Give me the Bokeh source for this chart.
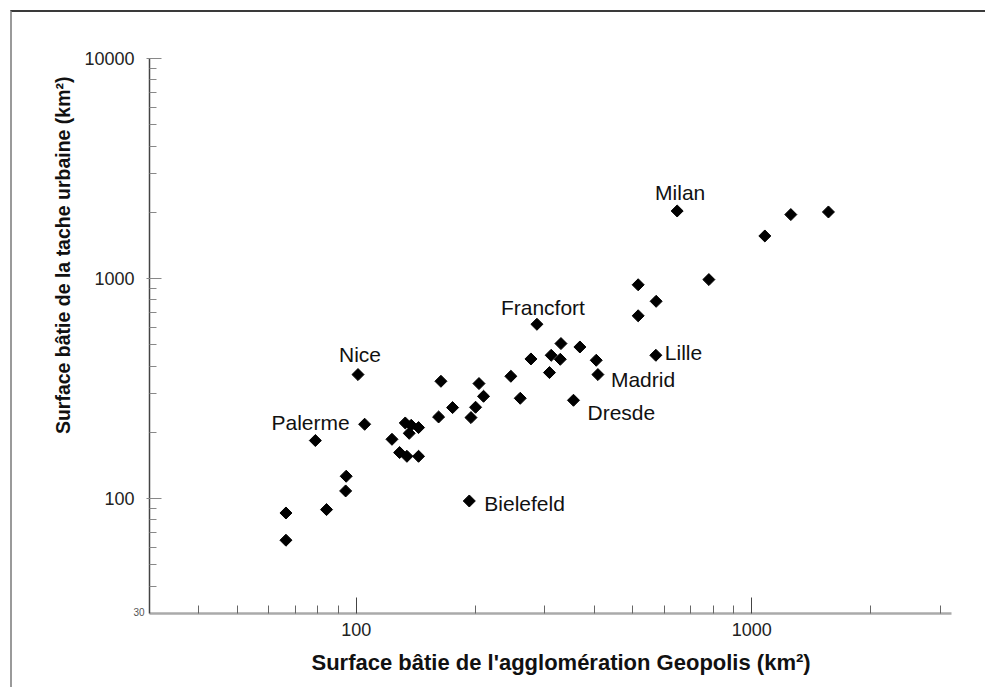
import numpy as np
from bokeh.plotting import figure
from bokeh.models import FixedTicker, NumeralTickFormatter, ColumnDataSource, Title
from bokeh.embed import file_html
from bokeh.resources import INLINE
from bokeh.core.properties import value

# ---- data (km²) ----
x_geopolis = [66.4, 66.4, 84.1, 94.0, 94.3, 78.8, 105.0, 101.0, 123.1, 128.7,
              134.3, 143.7, 133.0, 137.7, 143.7, 136.1, 161.5, 163.7, 175.2, 195.0,
              200.3, 204.3, 209.8, 193.1, 246.0, 259.8, 276.5, 286.3, 308.0, 311.1,
              328.0, 329.3, 354.2, 367.7, 404.4, 408.3, 572.2, 516.2, 516.2, 573.2,
              647.8, 779.1, 1079.3, 1255.6, 1563.0]
y_tache = [85.9, 64.6, 89.0, 108.2, 126.2, 183.4, 217.5, 365.8, 185.8, 161.7,
           155.5, 155.5, 220.4, 215.1, 210.0, 197.8, 234.7, 341.0, 258.9, 233.2,
           259.8, 332.9, 291.4, 97.4, 359.3, 285.4, 430.7, 619.3, 373.5, 447.6,
           429.3, 506.0, 279.5, 488.2, 424.9, 365.8, 447.6, 676.8, 936.3, 787.5,
           2027.0, 988.6, 1560.5, 1952.0, 2006.0]

city_names = ["Milan", "Francfort", "Nice", "Palerme", "Lille", "Madrid", "Dresde", "Bielefeld"]
city_x = [647.8, 286.3, 101.0, 105.0, 572.2, 408.3, 354.2, 193.1]
city_y = [2027.0, 619.3, 365.8, 217.5, 447.6, 365.8, 279.5, 97.4]

x_major_ticks = [100, 1000]
x_minor_ticks = [40, 50, 60, 70, 80, 90, 200, 300, 400, 500, 600, 700, 800, 900, 2000, 3000]
y_major_ticks = [100, 1000, 10000]
y_minor_ticks = [40, 50, 60, 70, 80, 90, 200, 300, 400, 500, 600, 700, 800, 900,
                 2000, 3000, 4000, 5000, 6000, 7000, 8000, 9000]
x_limits = (30, 3200)
y_limits = (30, 10000)
y_low_label = "30"
x_title = "Surface bâtie de l'agglomération Geopolis (km²)"
y_title = "Surface bâtie de la tache urbaine (km²)"

# ---- styles ----
FONT = "Liberation Sans"
label_style = {
    "Milan": dict(align="center", dx=3, dy=-18),
    "Francfort": dict(align="center", dx=6, dy=-17),
    "Nice": dict(align="center", dx=2, dy=-20),
    "Palerme": dict(align="right", dx=-15, dy=-2),
    "Lille": dict(align="left", dx=9, dy=-3),
    "Madrid": dict(align="left", dx=13, dy=5),
    "Dresde": dict(align="left", dx=14, dy=12),
    "Bielefeld": dict(align="left", dx=15, dy=3),
}

p = figure(x_axis_type="log", y_axis_type="log",
           x_range=x_limits, y_range=y_limits,
           frame_width=802, frame_height=555,
           min_border_left=137, min_border_right=34,
           min_border_top=46, min_border_bottom=74,
           output_backend="svg", toolbar_location=None)
p.styles = {"margin-top": "10px", "margin-left": "10px",
            "border-top": "2px solid #3a3a3a", "border-left": "2px solid #9a9a9a"}
p.outline_line_color = None
p.grid.visible = False
p.background_fill_color = "white"
p.border_fill_color = "white"

xa = p.xaxis[0]
xa.ticker = FixedTicker(ticks=x_major_ticks, minor_ticks=x_minor_ticks)
xa.formatter = NumeralTickFormatter(format="0")
xa.major_tick_in = 16
xa.major_tick_out = 0
xa.minor_tick_in = 8
xa.minor_tick_out = 0
xa.axis_line_color = "#aaaaaa"
xa.axis_line_width = 2.5
xa.major_tick_line_color = "#444444"
xa.minor_tick_line_color = "#666666"
xa.major_label_text_font = FONT
xa.major_label_text_font_size = "18px"
xa.major_label_text_color = "#222222"
xa.major_label_standoff = 9

ya = p.yaxis[0]
ya.ticker = FixedTicker(ticks=y_major_ticks, minor_ticks=y_minor_ticks)
ya.formatter = NumeralTickFormatter(format="0")
ya.major_tick_in = 12
ya.major_tick_out = 3
ya.minor_tick_in = 7
ya.minor_tick_out = 0
ya.axis_line_color = "#444444"
ya.axis_line_width = 1.5
ya.major_tick_line_color = "#888888"
ya.minor_tick_line_color = "#888888"
ya.major_label_text_font = FONT
ya.major_label_text_font_size = "18px"
ya.major_label_text_color = "#222222"
ya.major_label_standoff = 12

p.add_layout(Title(text=y_title, align="right", offset=18, standoff=16,
                   text_font=FONT, text_font_size="19.5px", text_font_style="bold",
                   text_color="#111111"), "left")

# tiny "30" at the foot of the y axis: a title nested right under the frame edge
low_title = Title(text=y_low_label, align="left", offset=-16, standoff=-11,
                  vertical_align="top", text_font=FONT, text_font_size="10px",
                  text_font_style="normal", text_color="#555555")
x_title_obj = Title(text=x_title, align="left", offset=162, standoff=22,
                    vertical_align="top", text_font=FONT, text_font_size="22px",
                    text_font_style="bold", text_color="#111111")
p.below = [low_title, xa, x_title_obj]

p.scatter(x_geopolis, y_tache, marker="square", size=8.5, angle=np.pi / 4,
          fill_color="black", line_color="black", line_join="round", line_width=1)

for align in ["left", "center", "right"]:
    idx = [i for i, n in enumerate(city_names) if label_style[n]["align"] == align]
    src = ColumnDataSource(dict(
        x=[city_x[i] for i in idx], y=[city_y[i] for i in idx],
        t=[city_names[i] for i in idx],
        dx=[label_style[city_names[i]]["dx"] for i in idx],
        dy=[label_style[city_names[i]]["dy"] for i in idx]))
    p.text(x="x", y="y", text="t", x_offset="dx", y_offset="dy", source=src,
           text_align=align, text_baseline="middle",
           text_font=value(FONT), text_font_size="21px", text_color="#111111")

open("out.html", "w").write(file_html(p, INLINE))
